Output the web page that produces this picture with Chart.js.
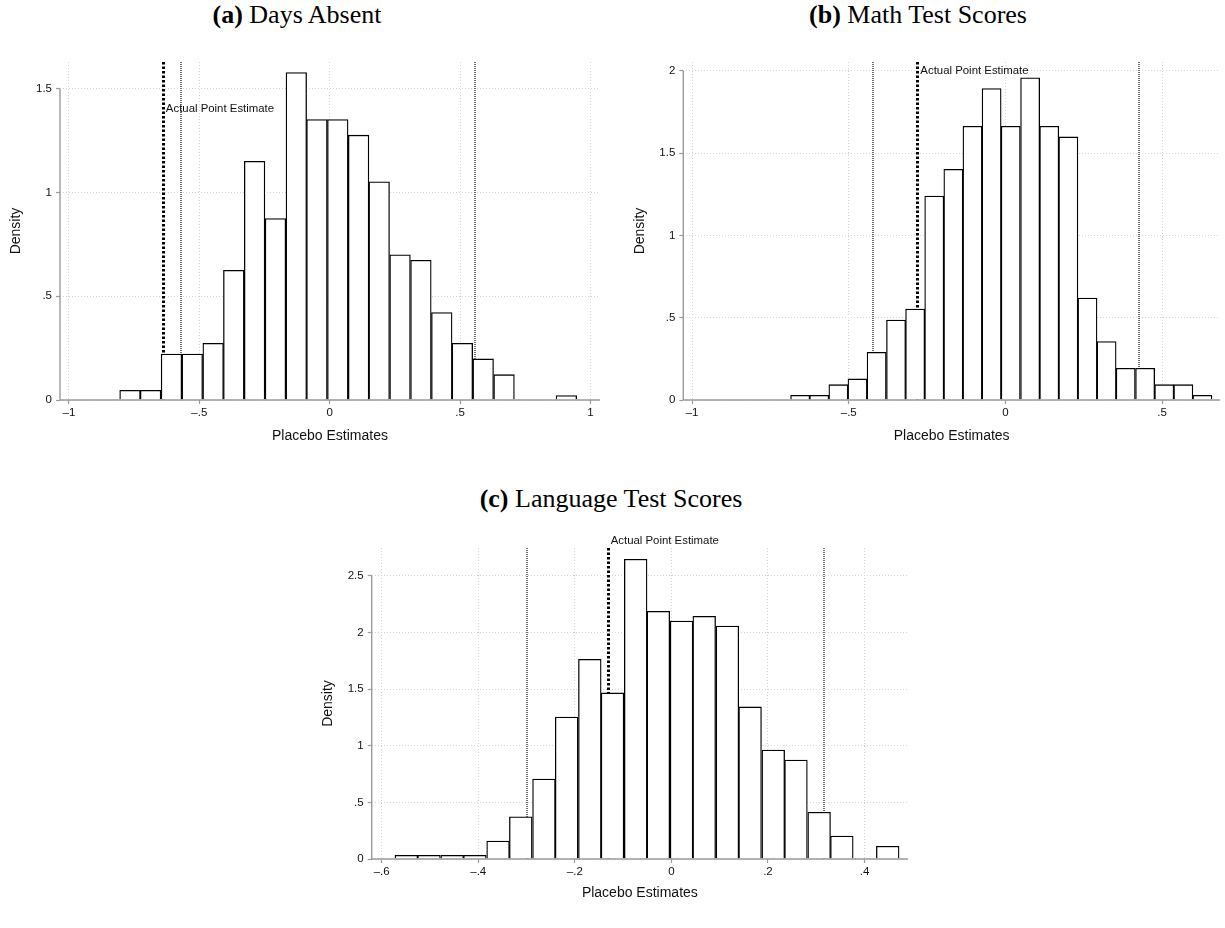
<!DOCTYPE html>
<html>
<head>
<meta charset="utf-8">
<script src="https://cdn.jsdelivr.net/npm/chart.js@4.4.1/dist/chart.umd.min.js"></script>
<style>
  body { margin: 0; background: #fff; width: 1225px; height: 928px; position: relative; overflow: hidden; }
  .panel { position: absolute; }
  .title {
    position: absolute; white-space: nowrap; transform: translateX(-50%);
    font-family: "Liberation Serif", "Times New Roman", serif; font-size: 26px; line-height: 26px; color: #000;
  }
</style>
</head>
<body>
<div class="title" style="left:297px; top:2px"><b>(a)</b> Days Absent</div>
<div class="title" style="left:918px; top:2px"><b>(b)</b> Math Test Scores</div>
<div class="title" style="left:611px; top:486px"><b>(c)</b> Language Test Scores</div>

<div class="panel" style="left:0px; top:0px"><canvas id="chartA" width="612" height="450"></canvas></div>
<div class="panel" style="left:620px; top:0px"><canvas id="chartB" width="605" height="450"></canvas></div>
<div class="panel" style="left:300px; top:470px"><canvas id="chartC" width="620" height="458"></canvas></div>

<script>
// ---- (a) Days Absent ----
const binsA = [-0.766, -0.687, -0.607, -0.527, -0.447, -0.368, -0.288, -0.208, -0.128, -0.049, 0.031,
               0.111, 0.190, 0.270, 0.350, 0.430, 0.509, 0.589, 0.669, 0.749, 0.828, 0.908];
const densityA = [0.047, 0.047, 0.222, 0.222, 0.273, 0.625, 1.151, 0.875, 1.579, 1.352, 1.352,
                  1.277, 1.052, 0.700, 0.674, 0.422, 0.273, 0.198, 0.122, null, null, 0.021];
const xTicksA = [-1, -0.5, 0, 0.5, 1];
const xLabelsA = ['\u20131', '\u2013.5', '0', '.5', '1'];
const yTicksA = [0, 0.5, 1, 1.5];
const yLabelsA = ['0', '.5', '1', '1.5'];
const estimateA = -0.640;
const ciA = [-0.571, 0.559];
const labelYA = 1.405;

// ---- (b) Math Test Scores ----
const binsB = [-0.655, -0.594, -0.533, -0.472, -0.411, -0.349, -0.288, -0.227, -0.166, -0.105, -0.044,
               0.017, 0.079, 0.140, 0.201, 0.262, 0.323, 0.384, 0.446, 0.507, 0.568, 0.629];
const densityB = [0.028, 0.028, 0.093, 0.128, 0.290, 0.485, 0.552, 1.239, 1.401, 1.663, 1.892,
                  1.663, 1.957, 1.663, 1.598, 0.619, 0.355, 0.193, 0.193, 0.093, 0.093, 0.028];
const xTicksB = [-1, -0.5, 0, 0.5];
const xLabelsB = ['\u20131', '\u2013.5', '0', '.5'];
const yTicksB = [0, 0.5, 1, 1.5, 2];
const yLabelsB = ['0', '.5', '1', '1.5', '2'];
const estimateB = -0.281;
const ciB = [-0.423, 0.425];
const labelYB = 2.0;

// ---- (c) Language Test Scores ----
const binsC = [-0.549, -0.502, -0.454, -0.407, -0.359, -0.312, -0.264, -0.217, -0.169, -0.122, -0.074,
               -0.027, 0.021, 0.068, 0.116, 0.163, 0.211, 0.258, 0.306, 0.353, 0.401, 0.448];
const densityC = [0.032, 0.032, 0.032, 0.032, 0.159, 0.372, 0.707, 1.254, 1.764, 1.467, 2.648,
                  2.187, 2.101, 2.144, 2.058, 1.343, 0.963, 0.874, 0.413, 0.202, null, 0.113];
const xTicksC = [-0.6, -0.4, -0.2, 0, 0.2, 0.4];
const xLabelsC = ['\u2013.6', '\u2013.4', '\u2013.2', '0', '.2', '.4'];
const yTicksC = [0, 0.5, 1, 1.5, 2, 2.5];
const yLabelsC = ['0', '.5', '1', '1.5', '2', '2.5'];
const estimateC = -0.132;
const ciC = [-0.300, 0.3165];
const labelYC = 2.81;

const AXIS_GREY = '#9a9a9a';
const GRID_GREY = '#d4d4d4';
const SANS = '"Liberation Sans", Arial, Helvetica, sans-serif';

// vertical reference lines under the bars, axis lines and label above them
const refLines = {
  id: 'refLines',
  beforeDatasetsDraw(chart, args, opts) {
    const { ctx, chartArea, scales: { x } } = chart;
    ctx.save();
    ctx.strokeStyle = '#707070';
    ctx.lineWidth = 2;
    ctx.setLineDash([1, 1]);
    opts.ci.forEach(v => {
      const px = Math.round(x.getPixelForValue(v));
      ctx.beginPath();
      ctx.moveTo(px, chartArea.top);
      ctx.lineTo(px, chartArea.bottom);
      ctx.stroke();
    });
    ctx.strokeStyle = '#000';
    ctx.lineWidth = 3;
    ctx.setLineDash([2.5, 2]);
    const ex = Math.round(x.getPixelForValue(opts.estimate)) + 0.5;
    ctx.beginPath();
    ctx.moveTo(ex, chartArea.top);
    ctx.lineTo(ex, chartArea.bottom);
    ctx.stroke();
    ctx.restore();
  },
  afterDatasetsDraw(chart, args, opts) {
    const { ctx, chartArea, scales: { x, y } } = chart;
    ctx.save();
    // axis lines (y only spans the labelled range, like Stata)
    ctx.strokeStyle = AXIS_GREY;
    ctx.lineWidth = 1.4;
    const y0 = y.getPixelForValue(0);
    ctx.beginPath();
    ctx.moveTo(chartArea.left, y0);
    ctx.lineTo(chartArea.right, y0);
    ctx.moveTo(chartArea.left, y0);
    ctx.lineTo(chartArea.left, y.getPixelForValue(opts.yTop));
    ctx.stroke();
    // label next to the actual estimate
    ctx.fillStyle = '#111';
    ctx.font = '11.4px ' + SANS;
    ctx.textBaseline = 'middle';
    ctx.textAlign = 'left';
    ctx.fillText('Actual Point Estimate', x.getPixelForValue(opts.estimate) + 3, y.getPixelForValue(opts.labelY));
    ctx.restore();
  }
};

function makeHistogram(id, d, lay) {
  return new Chart(document.getElementById(id), {
    type: 'bar',
    data: {
      datasets: [{
        data: d.bins.map((b, i) => ({ x: b, y: d.density[i] })),
        backgroundColor: '#ffffff',
        borderColor: '#000000',
        borderWidth: 1.3,
        barPercentage: 1,
        categoryPercentage: 1
      }]
    },
    options: {
      responsive: false,
      animation: false,
      layout: { padding: lay.padding },
      plugins: {
        legend: { display: false },
        tooltip: { enabled: false },
        refLines: { ci: d.ci, estimate: d.estimate, labelY: d.labelY, yTop: d.yTicks[d.yTicks.length - 1] }
      },
      scales: {
        x: {
          type: 'linear',
          min: lay.xMin, max: lay.xMax,
          offset: false,
          afterFit: s => { s.height = lay.xAxisHeight; },
          afterBuildTicks: s => { s.ticks = d.xTicks.map(v => ({ value: v })); },
          grid: { offset: false, color: GRID_GREY, lineWidth: 1, tickLength: 4, tickColor: AXIS_GREY, tickWidth: 1.2 },
          border: { display: false, dash: [1, 2] },
          ticks: {
            autoSkip: false, maxRotation: 0, padding: 2, color: '#111',
            font: { family: SANS, size: 11.5 },
            callback: (v, i) => d.xLabels[i]
          },
          title: {
            display: true, text: 'Placebo Estimates', color: '#111',
            font: { family: SANS, size: 14 },
            padding: { top: 0, bottom: lay.xTitlePad }
          }
        },
        y: {
          min: 0, max: lay.yMax,
          afterFit: s => { s.width = lay.yAxisWidth; },
          afterBuildTicks: s => { s.ticks = d.yTicks.map(v => ({ value: v })); },
          grid: { color: GRID_GREY, lineWidth: 1, tickLength: 4, tickColor: AXIS_GREY, tickWidth: 1.2 },
          border: { display: false, dash: [1, 2] },
          ticks: {
            autoSkip: false, padding: 4, color: '#111',
            font: { family: SANS, size: 11.5 },
            callback: (v, i) => d.yLabels[i]
          },
          title: {
            display: true, text: 'Density', color: '#111',
            font: { family: SANS, size: 14 },
            padding: { top: lay.yTitlePad, bottom: 0 }
          }
        }
      }
    },
    plugins: [refLines]
  });
}

makeHistogram('chartA',
  { bins: binsA, density: densityA, xTicks: xTicksA, xLabels: xLabelsA, yTicks: yTicksA, yLabels: yLabelsA,
    estimate: estimateA, ci: ciA, labelY: labelYA },
  { padding: { left: 0, top: 62, right: 12, bottom: 0 }, yAxisWidth: 60, xAxisHeight: 50,
    xMin: -1.0345, xMax: 1.037, yMax: 1.630, xTitlePad: 5, yTitlePad: 8 });

makeHistogram('chartB',
  { bins: binsB, density: densityB, xTicks: xTicksB, xLabels: xLabelsB, yTicks: yTicksB, yLabels: yLabelsB,
    estimate: estimateB, ci: ciB, labelY: labelYB },
  { padding: { left: 0, top: 62, right: 5, bottom: 0 }, yAxisWidth: 63.3, xAxisHeight: 50,
    xMin: -1.028, xMax: 0.685, yMax: 2.053, xTitlePad: 5, yTitlePad: 12 });

makeHistogram('chartC',
  { bins: binsC, density: densityC, xTicks: xTicksC, xLabels: xLabelsC, yTicks: yTicksC, yLabels: yLabelsC,
    estimate: estimateC, ci: ciC, labelY: labelYC },
  { padding: { left: 0, top: 78, right: 12, bottom: 0 }, yAxisWidth: 71.7, xAxisHeight: 69,
    xMin: -0.6207, xMax: 0.49, yMax: 2.747, xTitlePad: 26.6, yTitlePad: 19.3 });
</script>
</body>
</html>
